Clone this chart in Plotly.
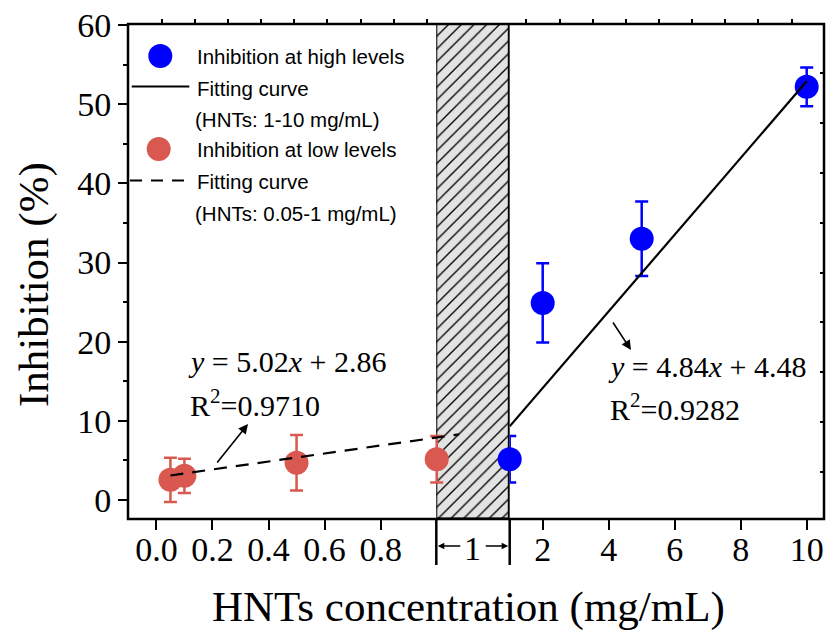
import plotly.graph_objects as go

# ---------------- data ----------------
low_x = [0.05, 0.1, 0.5, 1.0]
low_y = [2.55, 3.05, 4.7, 5.15]
low_err = [2.8, 2.15, 3.5, 2.95]

high_x = [1, 2, 5, 10]
high_y = [5.15, 24.9, 33.0, 52.2]
high_err = [2.95, 5.0, 4.7, 2.45]

low_fit_x = [0.05, 1.08]
low_fit_y = [3.1, 8.3]
high_fit_x = [1, 10]
high_fit_y = [9.3, 52.9]

low_ticks = [0.0, 0.2, 0.4, 0.6, 0.8]
low_ticktext = ["0.0", "0.2", "0.4", "0.6", "0.8"]
high_ticks = [2, 4, 6, 8, 10]
y_ticks = [0, 10, 20, 30, 40, 50, 60]

eq_low = ["<i>y</i> = 5.02<i>x</i> + 2.86", "R<sup>2</sup>=0.9710"]
eq_high = ["<i>y</i> = 4.84<i>x</i> + 4.48", "R<sup>2</sup>=0.9282"]
legend_labels = ["Inhibition at high levels", "Fitting curve", "(HNTs: 1-10 mg/mL)",
                 "Inhibition at low levels", "Fitting curve", "(HNTs: 0.05-1 mg/mL)"]

RED = "#D9584F"
BLUE = "#0000FF"
SERIF = "Times New Roman, Liberation Serif, serif"
SANS = "Arial, Liberation Sans, sans-serif"

# ---------------- geometry helpers (layout only) ----------------
W, H = 829, 637
L, R, T, B = 128, 824, 24, 519
PW, PH = R - L, B - T


def px(x):
    return (x - L) / PW


def py(y):
    return (B - y) / PH


YR = [-2.40, 60.14]
X2R = [(L - 156.4) / 280.3, (470 - 156.4) / 280.3]
X3R = [1, 1 + (R - 509.7) / 33.0]
HATCH_DOM = [px(436.3), px(509.7)]

fig = go.Figure()

# hatched break region (on its own axis, drawn first)
fig.add_trace(go.Bar(
    x=[0.5], y=[YR[1] - YR[0]], base=[YR[0]], width=[1],
    xaxis="x", yaxis="y",
    marker=dict(color="#E3E3E3", line=dict(color="black", width=2.5),
                pattern=dict(shape="/", fgcolor="black", bgcolor="#E3E3E3",
                             size=9, solidity=0.15, fillmode="replace")),
    showlegend=False, hoverinfo="skip"))

# low-level data
fig.add_trace(go.Scatter(
    x=low_x, y=low_y, mode="markers", xaxis="x2", yaxis="y",
    marker=dict(size=24, color=RED),
    error_y=dict(type="data", array=low_err, color=RED, thickness=2.5, width=6.5),
    cliponaxis=False, showlegend=False))
fig.add_trace(go.Scatter(
    x=low_fit_x, y=low_fit_y, mode="lines", xaxis="x2", yaxis="y",
    line=dict(color="black", width=2.2, dash="13px,9px"), showlegend=False))

# high-level data
fig.add_trace(go.Scatter(
    x=high_x, y=high_y, mode="markers", xaxis="x3", yaxis="y",
    marker=dict(size=24, color=BLUE),
    error_y=dict(type="data", array=high_err, color=BLUE, thickness=2.5, width=6.5),
    cliponaxis=False, showlegend=False))
fig.add_trace(go.Scatter(
    x=high_fit_x, y=high_fit_y, mode="lines", xaxis="x3", yaxis="y",
    line=dict(color="black", width=2.2), showlegend=False))

# dummy traces so decorative mirror-tick axes exist
fig.add_trace(go.Scatter(x=[None], y=[None], xaxis="x4", yaxis="y", showlegend=False, hoverinfo="skip"))
fig.add_trace(go.Scatter(x=[None], y=[None], xaxis="x3", yaxis="y2", showlegend=False, hoverinfo="skip"))

tickfont = dict(family=SERIF, size=34, color="black")

top_ticks = [161.7 - L + 33.15 * k for k in range(20)]
top_ticks = [t for t in top_ticks if not (436 - L < t < 510 - L) and t < PW - 5]
right_ticks = [47.3 + 49.8 * k for k in range(9)]

fig.update_layout(
    width=W, height=H,
    margin=dict(l=L, r=W - R, t=T, b=H - B, pad=0),
    paper_bgcolor="white", plot_bgcolor="rgba(0,0,0,0)",
    showlegend=False, bargap=0,
    xaxis=dict(domain=HATCH_DOM, range=[0, 1], visible=False, fixedrange=True),
    xaxis2=dict(domain=[0, px(470)], range=X2R, anchor="y",
                tickvals=low_ticks, ticktext=low_ticktext,
                ticks="outside", ticklen=10, tickwidth=2, tickcolor="black",
                ticklabelstandoff=-10,
                showline=False, showgrid=False, zeroline=False, tickfont=tickfont),
    xaxis3=dict(domain=[HATCH_DOM[1], 1], range=X3R, anchor="y",
                tickvals=high_ticks,
                ticks="outside", ticklen=10, tickwidth=2, tickcolor="black",
                ticklabelstandoff=-10,
                showline=False, showgrid=False, zeroline=False, tickfont=tickfont),
    xaxis4=dict(domain=[0, 1], range=[0, PW], anchor="y", side="top",
                tickvals=top_ticks, ticks="outside", ticklen=4, tickwidth=1.5,
                tickcolor="black", showticklabels=False, showline=False,
                showgrid=False, zeroline=False),
    yaxis=dict(domain=[0, 1], range=YR, anchor="free", position=0,
               tickvals=y_ticks, ticks="outside", ticklen=10, tickwidth=2, tickcolor="black",
               minor=dict(dtick=5, tick0=0, ticks="outside", ticklen=5, tickwidth=2, tickcolor="black"),
               showline=False, showgrid=False, zeroline=False, tickfont=tickfont),
    yaxis2=dict(range=[0, PH], overlaying="y", side="right", anchor="x3",
                tickvals=right_ticks, ticks="inside", ticklen=4, tickwidth=1.5,
                tickcolor="black", showticklabels=False, showline=False,
                showgrid=False, zeroline=False),
)

shapes = []
# frame
shapes.append(dict(type="rect", xref="paper", yref="paper", x0=0, x1=1, y0=0, y1=1,
                   line=dict(color="black", width=2.5), layer="above"))
# break lines below axis
for xb in (436.3, 509.7):
    shapes.append(dict(type="line", xref="paper", yref="paper", x0=px(xb), x1=px(xb),
                       y0=py(565), y1=0, line=dict(color="black", width=2.5)))
# legend symbols
for (cx, cy, col) in [(160.3, 56, BLUE), (158.7, 149, RED)]:
    shapes.append(dict(type="circle", xref="paper", yref="paper",
                       xsizemode="pixel", ysizemode="pixel",
                       xanchor=px(cx), yanchor=py(cy), x0=-12, x1=12, y0=-12, y1=12,
                       fillcolor=col, line=dict(width=0)))
shapes.append(dict(type="line", xref="paper", yref="paper", x0=px(131.7), x1=px(189.3),
                   y0=py(86.5), y1=py(86.5), line=dict(color="black", width=2.2)))
shapes.append(dict(type="line", xref="paper", yref="paper", x0=px(130), x1=px(189),
                   y0=py(180.5), y1=py(180.5), line=dict(color="black", width=2.2, dash="12px,9px")))
fig.update_layout(shapes=shapes)

ann = []
# legend text
for lab, yy in zip(legend_labels, [56.7, 88.3, 119.3, 149, 181.7, 213.3]):
    xx = 193.3 if lab.startswith("(") else 195
    ann.append(dict(xref="paper", yref="paper", x=px(xx), y=py(yy), text=lab,
                    showarrow=False, xanchor="left", yanchor="middle",
                    font=dict(family=SANS, size=20.5, color="black")))
# equations
eqfont = dict(family=SERIF, size=30, color="black")
ann.append(dict(xref="paper", yref="paper", x=px(186), y=py(361.7), text=eq_low[0],
                showarrow=False, xanchor="left", yanchor="middle", font=eqfont))
ann.append(dict(xref="paper", yref="paper", x=px(188), y=py(403), text=eq_low[1],
                showarrow=False, xanchor="left", yanchor="middle", font=eqfont))
ann.append(dict(xref="paper", yref="paper", x=px(605.5), y=py(366), text=eq_high[0],
                showarrow=False, xanchor="left", yanchor="middle", font=eqfont))
ann.append(dict(xref="paper", yref="paper", x=px(608), y=py(406.7), text=eq_high[1],
                showarrow=False, xanchor="left", yanchor="middle", font=eqfont))
# pointer arrows
ann.append(dict(xref="paper", yref="paper", x=px(248), y=py(424), text="",
                showarrow=True, ax=-32, ay=40, arrowhead=2, arrowsize=1.2,
                arrowwidth=1.6, arrowcolor="black"))
ann.append(dict(xref="paper", yref="paper", x=px(631), y=py(350), text="",
                showarrow=True, ax=-19, ay=-29, arrowhead=2, arrowsize=1.2,
                arrowwidth=1.6, arrowcolor="black"))
# break width marker  "<-1->"
ann.append(dict(xref="paper", yref="paper", x=px(472.7), y=py(548), text="1",
                showarrow=False, xanchor="center", yanchor="middle",
                font=dict(family=SERIF, size=34, color="black")))
ann.append(dict(xref="paper", yref="paper", x=px(437.8), y=py(546), text="",
                showarrow=True, ax=24, ay=0, arrowhead=2, arrowsize=1,
                arrowwidth=1.3, arrowcolor="black"))
ann.append(dict(xref="paper", yref="paper", x=px(508.2), y=py(546), text="",
                showarrow=True, ax=-24, ay=0, arrowhead=2, arrowsize=1,
                arrowwidth=1.3, arrowcolor="black"))
# axis titles
ann.append(dict(xref="paper", yref="paper", x=px(468.5), y=py(607),
                text="HNTs concentration (mg/mL)", showarrow=False,
                xanchor="center", yanchor="middle",
                font=dict(family=SERIF, size=43, color="black")))
ann.append(dict(xref="paper", yref="paper", x=px(34), y=py(285),
                text="Inhibition (%)", showarrow=False, textangle=-90,
                xanchor="center", yanchor="middle",
                font=dict(family=SERIF, size=43, color="black")))
fig.update_layout(annotations=ann)

fig.write_html("out.html", config={"displayModeBar": False},
               post_script="document.body.style.margin='0';")
